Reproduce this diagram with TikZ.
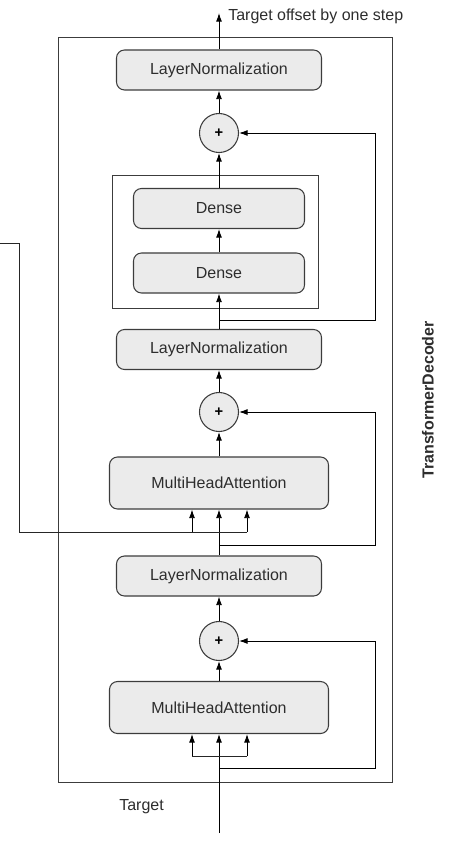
\documentclass[tikz,border=0pt]{standalone}
\usepackage{fontspec}
\setmainfont{Liberation Sans}
\usetikzlibrary{arrows.meta}
\definecolor{boxfill}{RGB}{235,235,235}
\definecolor{linegray}{RGB}{60,60,60}
\definecolor{textgray}{RGB}{45,45,45}
\tikzset{
  layer/.style={draw=linegray, fill=boxfill, rounded corners=6pt, line width=0.8pt, inner sep=0pt,
    minimum width=153.75pt, minimum height=30pt, text=textgray, font=\fontsize{12}{14}\selectfont},
  addnode/.style={draw=linegray, fill=boxfill, circle, line width=0.8pt, inner sep=0pt,
    minimum size=29.25pt, text=black, font=\fontsize{11}{13}\selectfont\bfseries},
  flow/.style={draw=black, line width=0.7pt, -{Latex[length=6.5pt,width=4.5pt]}},
  wire/.style={draw=black!85, line width=0.7pt},
  label/.style={text=textgray, font=\fontsize{12}{14}\selectfont, inner sep=0pt}
}
\begin{document}
\begin{tikzpicture}[x=0.75pt,y=0.75pt,yscale=-1,xscale=1]
    \path[use as bounding box] (0,0) rectangle (461,841);

    %Outer decoder frame
    \draw [color=linegray, line width=0.7pt] (58,37) rectangle (392,782);
    %Feed forward frame
    \draw [color=linegray, line width=0.7pt] (112,175) rectangle (318,308);

    % Layer nodes
    \node [layer] (ln1) at (219,70) {LayerNormalization};
    \node [addnode] (add1) at (219,133) {+};
    \node [layer, minimum width=128.25pt] (dense2) at (219,208.5) {Dense};
    \node [layer, minimum width=128.25pt] (dense1) at (219,273) {Dense};
    \node [layer] (ln2) at (219,349.5) {LayerNormalization};
    \node [addnode] (add2) at (219,412) {+};
    \node [layer, minimum width=164.25pt, minimum height=39pt] (mha1) at (219,483) {MultiHeadAttention};
    \node [layer] (ln3) at (219,576) {LayerNormalization};
    \node [addnode] (add3) at (219,641) {+};
    \node [layer, minimum width=164.25pt, minimum height=39pt] (mha2) at (219,707.5) {MultiHeadAttention};

    % Helper coordinates
    \coordinate (out) at (219,13);
    \coordinate (in) at (219,833);
    \coordinate (res1) at (219,320);
    \coordinate (res2) at (219,545);
    \coordinate (res3) at (219,768);
    \coordinate (enc) at (0,243);
    \coordinate (encl) at (192,532);
    \coordinate (encr) at (247,532);
    \coordinate (splitl) at (192,756);
    \coordinate (splitr) at (247,756);

    % Main flow
    \draw [flow] (ln1) -- (out);
    \draw [flow] (add1) -- (ln1);
    \draw [flow] (dense2) -- (add1);
    \draw [flow] (dense1) -- (dense2);
    \draw [flow] (ln2) -- (dense1);
    \draw [flow] (add2) -- (ln2);
    \draw [flow] (mha1) -- (add2);
    \draw [flow] (ln3) -- (mha1);
    \draw [flow] (add3) -- (ln3);
    \draw [flow] (mha2) -- (add3);
    \draw [flow] (in) -- (mha2);

    % Residual connections
    \draw [flow] (res1) -- (375,320) |- (add1);
    \draw [flow] (res2) -- (375,545) |- (add2);
    \draw [flow] (res3) -- (375,768) |- (add3);

    % Encoder output into cross attention
    \draw [wire] (enc) -- (19,243) |- (encr);
    \draw [flow] (encl) -- (encl |- mha1.south);
    \draw [flow] (encr) -- (encr |- mha1.south);

    % Target split into self attention
    \draw [wire] (splitl) -- (splitr);
    \draw [flow] (splitl) -- (splitl |- mha2.south);
    \draw [flow] (splitr) -- (splitr |- mha2.south);

    % Text Node
    \node [label, anchor=west] (outlabel) at (228,16) {Target offset by one step};
    % Text Node
    \node [label, anchor=west] (inlabel) at (119,807) {Target};
    % Text Node
    \node [label, rotate=90, font=\fontsize{12}{14}\selectfont\bfseries] (title) at (428,400) {TransformerDecoder};

\end{tikzpicture}
\end{document}
